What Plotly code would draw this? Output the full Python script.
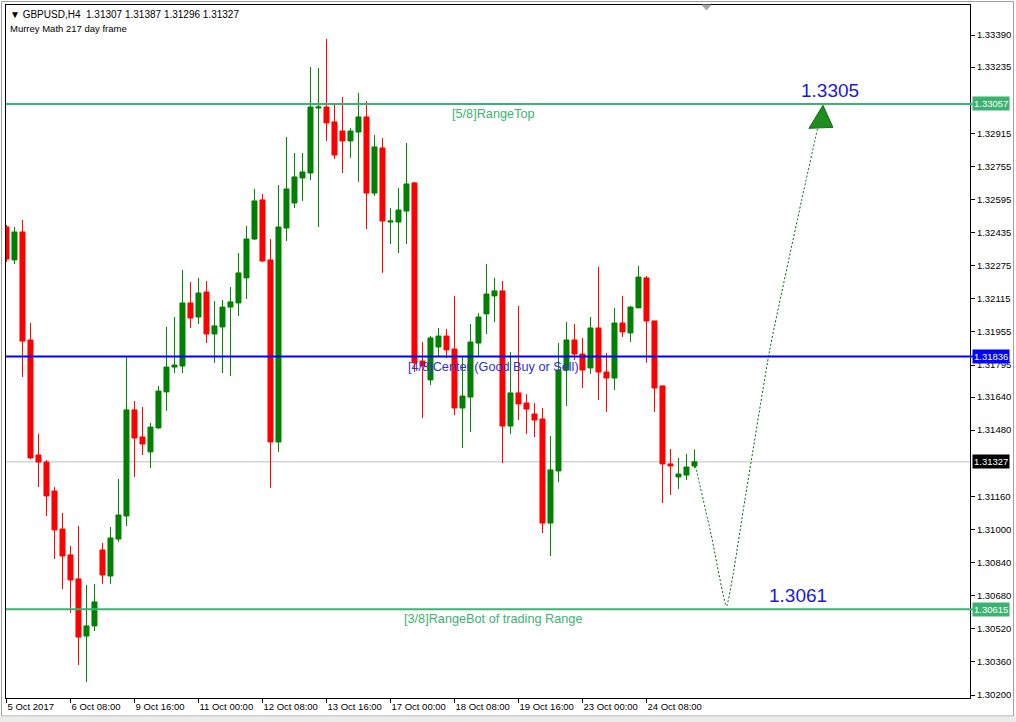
import plotly.graph_objects as go

# ---------------- data ----------------
symbol_header = "GBPUSD,H4"
header_ohlc = [1.31307, 1.31387, 1.31296, 1.31327]
indicator_name = "Murrey Math 217 day frame"

opens = [1.32462, 1.32303, 1.32438, 1.31916, 1.31360, 1.31326, 1.31186, 1.31002, 1.30877, 1.30761,
         1.30485, 1.30534, 1.30901, 1.30775, 1.30954, 1.31065, 1.31578, 1.31447, 1.31375, 1.31491,
         1.31665, 1.31785, 1.31790, 1.32095, 1.32027, 1.32148, 1.31945, 1.31979, 1.32075, 1.32095,
         1.32216, 1.32404, 1.32593, 1.32303, 1.31423, 1.32457, 1.32578, 1.32699, 1.32723, 1.33037,
         1.33042, 1.32970, 1.32926, 1.32878, 1.32921, 1.32994, 1.32626, 1.32844, 1.32486, 1.32486,
         1.32539, 1.32675, 1.31814, 1.31723, 1.31882, 1.31935, 1.31872, 1.31587, 1.31640, 1.31901,
         1.32042, 1.32129, 1.32153, 1.31500, 1.31660, 1.31611, 1.31558, 1.31534, 1.31031, 1.31283,
         1.31771, 1.31916, 1.31848, 1.31781, 1.31974, 1.31761, 1.31732, 1.31998, 1.31950, 1.32071,
         1.32216, 1.32008, 1.31694, 1.31317, 1.31254, 1.31263, 1.31307]
highs = [1.32472, 1.32462, 1.32496, 1.31998, 1.31462, 1.31336, 1.31205, 1.31080, 1.30920, 1.31017,
         1.30732, 1.30737, 1.30935, 1.31012, 1.31244, 1.31834, 1.31621, 1.31592, 1.31515, 1.31694,
         1.31979, 1.32027, 1.32254, 1.32196, 1.32216, 1.32201, 1.32104, 1.32109, 1.32172, 1.32336,
         1.32467, 1.32646, 1.32622, 1.32404, 1.32665, 1.32897, 1.32820, 1.32820, 1.33235, 1.33231,
         1.33371, 1.33052, 1.33090, 1.32941, 1.33110, 1.33071, 1.32907, 1.32892, 1.32554, 1.32651,
         1.32868, 1.32680, 1.31906, 1.31935, 1.31974, 1.31969, 1.32129, 1.31834, 1.31993, 1.32046,
         1.32283, 1.32216, 1.32201, 1.31858, 1.32080, 1.31655, 1.31611, 1.31587, 1.31452, 1.31901,
         1.32003, 1.31993, 1.31926, 1.32027, 1.32269, 1.31853, 1.32071, 1.32129, 1.32080, 1.32274,
         1.32225, 1.32008, 1.31694, 1.31389, 1.31346, 1.31365, 1.31387]
lows = [1.32293, 1.32283, 1.31737, 1.31341, 1.31205, 1.31065, 1.30857, 1.30712, 1.30596, 1.30345,
        1.30263, 1.30509, 1.30737, 1.30737, 1.30940, 1.31017, 1.31254, 1.31360, 1.31297, 1.31486,
        1.31573, 1.31756, 1.31756, 1.31974, 1.31993, 1.31901, 1.31805, 1.31756, 1.31742, 1.32032,
        1.32114, 1.32399, 1.32293, 1.31201, 1.31375, 1.32394, 1.32554, 1.32588, 1.32689, 1.32462,
        1.32878, 1.32791, 1.32723, 1.32796, 1.32680, 1.32452, 1.32612, 1.32240, 1.32380, 1.32336,
        1.32380, 1.31761, 1.31539, 1.31698, 1.31834, 1.31829, 1.31553, 1.31394, 1.31471, 1.31834,
        1.31945, 1.32003, 1.31321, 1.31462, 1.31529, 1.31462, 1.31447, 1.30983, 1.30872, 1.31230,
        1.31597, 1.31819, 1.31684, 1.31752, 1.31626, 1.31568, 1.31674, 1.31930, 1.31906, 1.32071,
        1.31805, 1.31568, 1.31128, 1.31167, 1.31196, 1.31239, 1.31296]
closes = [1.32307, 1.32438, 1.31911, 1.31346, 1.31326, 1.31162, 1.30998, 1.30872, 1.30756, 1.30480,
          1.30534, 1.30650, 1.30780, 1.30959, 1.31070, 1.31578, 1.31442, 1.31413, 1.31495, 1.31669,
          1.31785, 1.31795, 1.32095, 1.32022, 1.32143, 1.31945, 1.31984, 1.32075, 1.32100, 1.32240,
          1.32404, 1.32588, 1.32298, 1.31423, 1.32462, 1.32646, 1.32704, 1.32728, 1.33042, 1.33042,
          1.32965, 1.32810, 1.32878, 1.32926, 1.32994, 1.32626, 1.32849, 1.32491, 1.32491, 1.32544,
          1.32670, 1.31805, 1.31790, 1.31926, 1.31935, 1.31868, 1.31587, 1.31645, 1.31906, 1.32027,
          1.32138, 1.32153, 1.31500, 1.31660, 1.31607, 1.31582, 1.31529, 1.31031, 1.31288, 1.31771,
          1.31916, 1.31848, 1.31771, 1.31974, 1.31761, 1.31732, 1.31998, 1.31955, 1.32075, 1.32220,
          1.32008, 1.31684, 1.31317, 1.31307, 1.31268, 1.31302, 1.31327]

time_tick_bars = [0, 8, 16, 24, 32, 40, 48, 56, 64, 72, 80]
time_tick_labels = ["5 Oct 2017", "6 Oct 08:00", "9 Oct 16:00", "11 Oct 00:00", "12 Oct 08:00",
                    "13 Oct 16:00", "17 Oct 00:00", "18 Oct 08:00", "19 Oct 16:00", "23 Oct 00:00",
                    "24 Oct 08:00"]

price_ticks = [1.30200, 1.30360, 1.30520, 1.30680, 1.30840, 1.31000, 1.31160, 1.31480, 1.31640,
               1.31795, 1.31955, 1.32115, 1.32275, 1.32435, 1.32595, 1.32755, 1.32915, 1.33235, 1.33390]

level_names = ["[5/8]RangeTop", "[4/8]Center (Good Buy or Sell)", "[3/8]RangeBot of trading Range"]
level_values = [1.33057, 1.31836, 1.30615]
current_price = 1.31327

target_values = [1.3061, 1.3305]
target_label_bars = [98.9, 102.9]
proj_bars = [86, 88.1, 90, 92.3, 95.4, 99.4, 101.4]
proj_prices = [1.31327, 1.30973, 1.30630, 1.31143, 1.31868, 1.32593, 1.32941]

# ---------------- layout geometry ----------------
W, H = 1016, 722
ML, MR, MT, MB = 6, 46, 5, 24
PW, PH = W - ML - MR, H - MT - MB
BAR_PX = 8.0
x0 = -0.06
x_range = [x0, x0 + PW / BAR_PX]
y_range = [1.301855, 1.335350]
PX_PER_PRICE = PH / (y_range[1] - y_range[0])


def xp(px):
    return (px - ML) / PW


def yp(py):
    return (H - MB - py) / PH


n = len(opens)
bars = list(range(n))

GREEN = "#008000"
RED = "#FF0000"
LVL_GREEN = "#3CB371"
FONT = "Liberation Sans, Arial, DejaVu Sans"

fig = go.Figure()
fig.add_trace(go.Candlestick(
    x=bars, open=opens, high=highs, low=lows, close=closes,
    increasing=dict(line=dict(color=GREEN, width=1), fillcolor=GREEN),
    decreasing=dict(line=dict(color=RED, width=1), fillcolor=RED),
    whiskerwidth=0, hoverinfo="skip", showlegend=False,
))

# projection path
fig.add_trace(go.Scatter(
    x=proj_bars, y=proj_prices, mode="lines",
    line=dict(color="#006400", width=1, dash="2px,2px", shape="spline", smoothing=0.4),
    hoverinfo="skip", showlegend=False,
))

# arrow head at the upper target
tip_bar = 102.06
tip_price = target_values[1]
tri_h = 23 / PX_PER_PRICE
arrow_x = [tip_bar - 14 / BAR_PX, tip_bar + 10 / BAR_PX, tip_bar, tip_bar - 14 / BAR_PX]
arrow_y = [tip_price - tri_h, tip_price - tri_h + 1 / PX_PER_PRICE, tip_price, tip_price - tri_h]
fig.add_trace(go.Scatter(
    x=arrow_x, y=arrow_y, mode="lines", fill="toself",
    fillcolor="#1E8C1E", line=dict(color="#0F6E0F", width=1),
    hoverinfo="skip", showlegend=False,
))

shapes = []
annotations = []

# current price line
shapes.append(dict(type="line", xref="paper", yref="y", x0=0, x1=1, y0=current_price, y1=current_price,
                   line=dict(color="#C0C0C0", width=1), layer="below"))
# Murrey levels
lvl_colors = [LVL_GREEN, "#0000FF", LVL_GREEN]
lbl_colors = [LVL_GREEN, "#3030D0", LVL_GREEN]
for name, val, lc, tc in zip(level_names, level_values, lvl_colors, lbl_colors):
    shapes.append(dict(type="line", xref="paper", yref="y", x0=0, x1=1.003, y0=val, y1=val,
                       line=dict(color=lc, width=2), layer="above"))
    annotations.append(dict(xref="paper", yref="y", x=xp(493), y=val, text=name, showarrow=False,
                            xanchor="center", yanchor="top", yshift=-1,
                            font=dict(family=FONT, size=12.7, color=tc)))

# price boxes on the right axis
box_vals = level_values + [current_price]
box_colors = [LVL_GREEN, "#0000FF", LVL_GREEN, "#000000"]
for v, c in zip(box_vals, box_colors):
    annotations.append(dict(xref="paper", yref="y", x=1, xshift=2, y=v, text=f"{v:.5f}",
                            showarrow=False, xanchor="left", yanchor="middle",
                            bgcolor=c, borderpad=1,
                            font=dict(family=FONT, size=9.5, color="white")))

# target labels
for tb, tv in zip(target_label_bars, target_values):
    annotations.append(dict(xref="x", yref="y", x=tb, y=tv, text=f"{tv:.4f}", showarrow=False,
                            xanchor="center", yanchor="bottom", yshift=2,
                            font=dict(family=FONT, size=19, color="#1A1AD8")))

# header
nb = "\u00a0"
hdr = "▼" + nb + symbol_header + nb * 2 + nb.join(f"{v:.5f}" for v in header_ohlc)
annotations.append(dict(xref="paper", yref="paper", x=xp(8), y=yp(7), text=hdr, showarrow=False,
                        xanchor="left", yanchor="top",
                        font=dict(family=FONT, size=10, color="black")))
annotations.append(dict(xref="paper", yref="paper", x=xp(8), y=yp(21), text=indicator_name,
                        showarrow=False, xanchor="left", yanchor="top",
                        font=dict(family=FONT, size=9.5, color="black")))

# window frame decorations
shapes.append(dict(type="rect", xref="paper", yref="paper", x0=xp(1.5), x1=xp(1013.5),
                   y0=yp(716), y1=yp(1.5), line=dict(color="#A0A0A0", width=1), layer="below"))
shapes.append(dict(type="rect", xref="paper", yref="paper", x0=xp(0), x1=xp(1016),
                   y0=yp(722), y1=yp(716.5), line=dict(width=0), fillcolor="#ECECEC", layer="below"))
shapes.append(dict(type="path", xref="paper", yref="paper",
                   path=f"M{xp(702)},{yp(5)} L{xp(711)},{yp(5)} L{xp(706.5)},{yp(10)} Z",
                   line=dict(color="#A8A8A8", width=1), fillcolor="#A8A8A8"))

fig.update_layout(
    width=W, height=H,
    margin=dict(l=ML, r=MR, t=MT, b=MB, pad=0, autoexpand=False),
    paper_bgcolor="white", plot_bgcolor="white",
    showlegend=False, boxgap=0.375, boxgroupgap=0,
    shapes=shapes, annotations=annotations,
    font=dict(family=FONT, size=9.5, color="black"),
    xaxis=dict(range=x_range, tickmode="array", tickvals=time_tick_bars, ticktext=time_tick_labels,
               ticks="outside", ticklen=4, tickcolor="black", showgrid=False, zeroline=False,
               showline=True, linecolor="black", linewidth=1, mirror=True,
               ticklabelposition="outside right", rangeslider=dict(visible=False),
               tickfont=dict(family=FONT, size=9.5, color="black")),
    yaxis=dict(range=y_range, side="right", tickmode="array", tickvals=price_ticks,
               ticktext=[f"{v:.5f}" for v in price_ticks], ticks="outside", ticklen=4,
               tickcolor="black", showgrid=False, zeroline=False, showline=True,
               linecolor="black", linewidth=1, mirror=True,
               tickfont=dict(family=FONT, size=9.5, color="black")),
)

fig.write_html(
    "out.html",
    config={"displayModeBar": False},
    post_script="document.body.style.margin='0px';document.body.style.overflow='hidden';",
)
